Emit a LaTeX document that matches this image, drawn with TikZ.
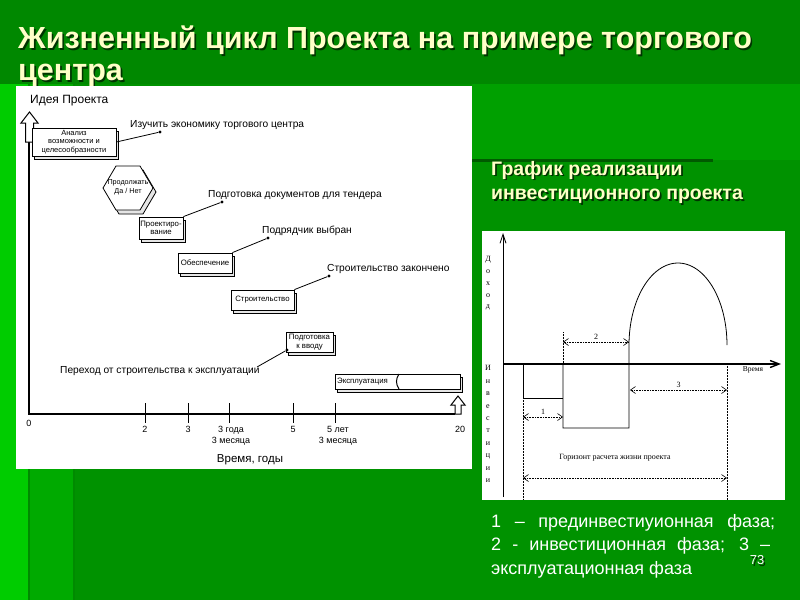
\documentclass[tikz,border=0pt]{standalone}
\usepackage{fontspec}
\setmainfont{Liberation Sans}
\newfontfamily\scanserif{Liberation Serif}
\usetikzlibrary{arrows.meta,positioning,shadows}
\definecolor{bodygreen}{HTML}{009200}
\definecolor{topgreen}{HTML}{008800}
\definecolor{stripgreen}{HTML}{00CC00}
\definecolor{bandgreen}{HTML}{00AA00}
\definecolor{seamgreen}{HTML}{008A00}
\definecolor{panelgreen}{HTML}{00A000}
\definecolor{rulegreen}{HTML}{005A00}
\definecolor{titleyellow}{HTML}{FFFFC8}
\definecolor{shadegreen}{HTML}{003300}
\newcommand{\dropshade}[1]{\makebox[0pt][l]{\hspace{1.6pt}\raisebox{-1.6pt}{\textcolor{shadegreen}{#1}}}#1}
\tikzset{
  stagebox/.style={draw, line width=0.8pt, fill=white, align=center, inner sep=1pt,
    font=\fontsize{7.8}{8.5}\selectfont,
    copy shadow={shadow xshift=2.5pt, shadow yshift=-3pt, fill=gray!20}},
  callout/.style={font=\fontsize{10.2}{11}\selectfont, inner sep=0pt, anchor=west},
  marker/.style={circle, fill, inner sep=1.1pt},
  lead/.style={line width=0.8pt},
  ticklabel/.style={font=\fontsize{9}{10}\selectfont, inner sep=0pt, anchor=north},
  phase/.style={densely dotted, line width=0.6pt,
    {Straight Barb[length=5pt,width=7pt]}-{Straight Barb[length=5pt,width=7pt]}},
  guide/.style={densely dotted, line width=0.5pt},
  scanlabel/.style={font=\scanserif\fontsize{8}{9}\selectfont, inner sep=1pt},
  slidetext/.style={anchor=north west, inner sep=0pt, align=left}
}
\begin{document}
\begin{tikzpicture}[x=1pt, y=-1pt]
\useasboundingbox (0,0) rectangle (800,600);
% slide background
\fill[bodygreen] (0,0) rectangle (800,600);
\fill[topgreen] (0,0) rectangle (800,84);
\fill[stripgreen] (0,84) rectangle (28,600);
\fill[seamgreen] (28,84) rectangle (30,600);
\fill[bandgreen] (30,84) rectangle (73,600);
\fill[seamgreen] (73,84) rectangle (75,600);
\fill[panelgreen] (472,84) rectangle (800,160);
\fill[rulegreen] (472,159) rectangle (713,162);
% title
\node[slidetext, text=titleyellow, font=\bfseries\fontsize{30.5}{32}\selectfont] (title) at (18,26)
  {\dropshade{Жизненный цикл Проекта на примере торгового}\\\dropshade{центра}};
% white panels
\fill[white] (16,86) rectangle (472,469);
\fill[white] (482,231) rectangle (785,500);
% left chart: axes
\node[font=\fontsize{12}{13}\selectfont, inner sep=0pt, anchor=west] (idea) at (30,101) {Идея Проекта};
\draw[line width=1.6pt] (29,142) -- (29,414) -- (455,414);
\draw[line width=1pt, fill=white] (25.5,142) -- (25.5,123) -- (21,123) -- (29.5,112)
  -- (38,123) -- (33.5,123) -- (33.5,142) -- cycle;
\draw[line width=1pt, fill=white] (455,414) -- (455,405) -- (451,405) -- (458,396)
  -- (465,405) -- (461,405) -- (461,414) -- cycle;
\foreach \tx in {145,188,229,293,335}
  \draw[line width=1pt] (\tx,403) -- (\tx,423);
\node[ticklabel] (t0) at (29,420) {0};
\node[ticklabel] (t2) at (145,426) {2};
\node[ticklabel] (t3) at (188,426) {3};
\node[ticklabel] (t3a) at (231,426) {3 года};
\node[ticklabel] (t3b) at (231,437) {3 месяца};
\node[ticklabel] (t5) at (293,426) {5};
\node[ticklabel] (t5a) at (338,426) {5 лет};
\node[ticklabel] (t5b) at (338,437) {3 месяца};
\node[ticklabel] (t20) at (460,426) {20};
\node[font=\fontsize{11.5}{12}\selectfont, inner sep=0pt] (years) at (250,460) {Время, годы};
% left chart: stages
\node[stagebox, font=\fontsize{7.5}{8.3}\selectfont, minimum width=84pt, minimum height=28pt]
  (analysis) at (74,142) {Анализ\\возможности и\\целесообразности};
\draw[line width=0.8pt, fill=gray!20] (106,192) -- (119,170) -- (143,170) -- (156,192)
  -- (143,214) -- (119,214) -- cycle;
\draw[line width=0.8pt, fill=white] (103,188) -- (116,166) -- (140,166) -- (153,188)
  -- (140,210) -- (116,210) -- cycle;
\node[font=\fontsize{7.2}{8.5}\selectfont, align=center, inner sep=0pt] (goon) at (128,187)
  {Продолжать\\Да / Нет};
\node[stagebox, minimum width=44pt, minimum height=22pt] (design) at (161,228)
  {Проектиро-\\вание};
\node[stagebox, minimum width=54pt, minimum height=20pt] (supply) at (205,263) {Обеспечение};
\node[stagebox, minimum width=63pt, minimum height=20pt] (build) at (262.5,300) {Строительство};
\node[stagebox, minimum width=47pt, minimum height=20pt] (prep) at (309.5,342)
  {Подготовка\\к вводу};
\node[stagebox, minimum width=125pt, minimum height=15pt] (operate) at (397.5,381.5) {};
\node[font=\fontsize{7.8}{8}\selectfont, inner sep=0pt, anchor=west] (opertext) at (337,381.5)
  {Эксплуатация};
\draw[line width=1pt] (399,374) to[bend right=35] (399,389);
% left chart: callouts
\node[callout] (c1) at (130,125) {Изучить экономику торгового центра};
\node[marker] (m1) at (160,132) {};
\draw[lead] (analysis.east) -- (m1);
\node[callout] (c2) at (208,195) {Подготовка документов для тендера};
\node[marker] (m2) at (222,202) {};
\draw[lead] (design.north east) -- (m2);
\node[callout] (c3) at (262,231) {Подрядчик выбран};
\node[marker] (m3) at (268,238) {};
\draw[lead] (supply.north east) -- (m3);
\node[callout] (c4) at (327,269) {Строительство закончено};
\node[marker] (m4) at (329,276) {};
\draw[lead] (build.north east) -- (m4);
\node[callout] (c5) at (60,371) {Переход от строительства к эксплуатации};
\node[marker] (m5) at (287,350) {};
\coordinate (c5end) at (257,367);
\draw[lead] (m5) -- (c5end);
% right chart
\coordinate (origin) at (503,364);
\draw[line width=0.8pt, -{Straight Barb[length=9pt,width=6pt]}] (503,497) -- (503,233);
\draw[line width=1.4pt, -{Straight Barb[length=9pt,width=7pt]}] (origin) -- (781,364);
\node[scanlabel, align=center, font=\scanserif\fontsize{8}{11.7}\selectfont] (income) at (488,283.5)
  {Д\\о\\х\\о\\д};
\node[scanlabel, align=center, font=\scanserif\fontsize{8}{12.4}\selectfont] (invest) at (488,424)
  {И\\н\\в\\е\\с\\т\\и\\ц\\и\\и};
\node[scanlabel, font=\scanserif\fontsize{7.5}{8}\selectfont] (time) at (753,370) {Время};
\draw[line width=0.8pt] (523,364) -- (523,398) -- (563,398);
\draw[line width=0.8pt] (563,364) -- (563,428) -- (629,428) -- (629,345)
  -- plot[domain=180:360, samples=60] ({678+49*cos(\x)}, {345+82*sin(\x)});
\draw[guide] (523,398) -- (523,500);
\draw[guide] (563,332) -- (563,364);
\draw[guide] (727,364) -- (727,500);
\coordinate (p1a) at (523,417); \coordinate (p1b) at (563,417);
\coordinate (p2a) at (563,342); \coordinate (p2b) at (629,342);
\coordinate (p3a) at (630,390); \coordinate (p3b) at (727,390);
\coordinate (ha) at (523,478); \coordinate (hb) at (727,478);
\draw[phase] (p1a) -- (p1b) node[scanlabel, midway, above=1pt] {1};
\draw[phase] (p2a) -- (p2b) node[scanlabel, midway, above=1pt] {2};
\draw[phase] (p3a) -- (p3b) node[scanlabel, midway, above=1pt] {3};
\draw[phase] (ha) -- (hb);
\node[scanlabel] (horizon) at (615,458) {Горизонт расчета жизни проекта};
% right captions
\node[slidetext, text=titleyellow, font=\bfseries\fontsize{19.5}{24.5}\selectfont] (subtitle) at (491,161)
  {\dropshade{График реализации}\\\dropshade{инвестиционного проекта}};
\node[slidetext, text=white, font=\fontsize{18}{23.5}\selectfont] (legend) at (491,514)
  {\makebox[284pt][s]{1 – прединвестиуионная фаза;}\\
   \makebox[279pt][s]{2 - инвестиционная фаза; 3 –}\\
   эксплуатационная фаза};
\node[text=white, font=\fontsize{13}{14}\selectfont, inner sep=0pt] (pagenum) at (757,561) {\dropshade{73}};
\end{tikzpicture}
\end{document}
